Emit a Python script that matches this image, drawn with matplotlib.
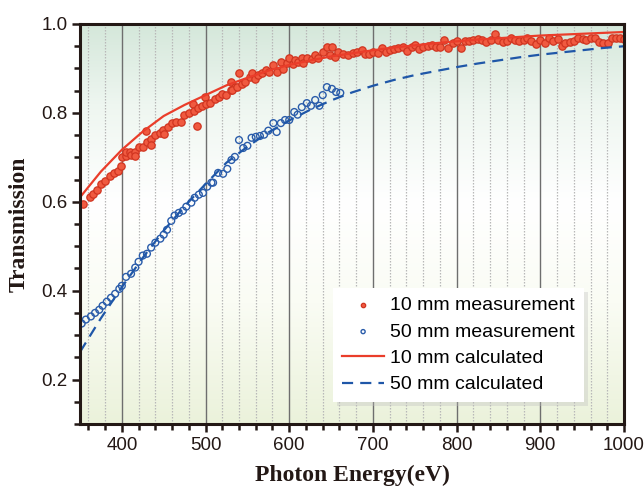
import numpy as np
import matplotlib
matplotlib.use("Agg")
import matplotlib.pyplot as plt
from matplotlib.ticker import MultipleLocator
from matplotlib.colors import LinearSegmentedColormap

# ---------------- data ----------------
m10_E = [354, 362, 366, 370, 375, 380, 386, 391, 395, 399, 400, 405, 405, 410, 411, 416, 416,
         420, 425, 429, 430, 435, 435, 440, 446, 449, 450, 455, 460, 465, 471, 474, 480, 485,
         486, 490, 491, 496, 499, 500, 505, 511, 516, 520, 524, 530, 530, 535, 532, 537, 540,
         543, 547, 553, 555, 559, 563, 567, 572, 576, 581, 585, 590, 593, 597, 600, 604, 607,
         611, 615, 616, 621, 627, 631, 634, 640, 645, 651, 649, 655, 658, 664, 670, 676, 681,
         687, 690, 695, 700, 706, 711, 716, 720, 725, 730, 736, 741, 747, 750, 755, 760, 766,
         770, 775, 780, 785, 790, 796, 800, 805, 810, 815, 820, 825, 830, 835, 841, 846, 849,
         855, 860, 865, 870, 875, 880, 884, 889, 895, 900, 906, 910, 915, 921, 926, 930, 935,
         940, 945, 951, 955, 960, 965, 970, 975, 981, 986, 990, 995, 1000]
m10_T = [0.596, 0.611, 0.618, 0.627, 0.640, 0.647, 0.658, 0.665, 0.670, 0.681, 0.700, 0.703,
         0.712, 0.712, 0.706, 0.712, 0.703, 0.724, 0.724, 0.760, 0.735, 0.742, 0.728, 0.751,
         0.755, 0.762, 0.753, 0.769, 0.777, 0.780, 0.780, 0.795, 0.800, 0.820, 0.805, 0.771,
         0.811, 0.816, 0.836, 0.820, 0.822, 0.831, 0.836, 0.843, 0.840, 0.852, 0.870, 0.858,
         0.852, 0.858, 0.890, 0.865, 0.870, 0.881, 0.890, 0.876, 0.885, 0.890, 0.897, 0.892,
         0.908, 0.892, 0.915, 0.899, 0.912, 0.924, 0.910, 0.919, 0.915, 0.924, 0.912, 0.924,
         0.921, 0.930, 0.924, 0.937, 0.948, 0.948, 0.930, 0.926, 0.937, 0.933, 0.930, 0.935,
         0.937, 0.942, 0.933, 0.933, 0.937, 0.935, 0.946, 0.937, 0.942, 0.944, 0.946, 0.948,
         0.939, 0.948, 0.953, 0.944, 0.948, 0.951, 0.953, 0.948, 0.948, 0.964, 0.946, 0.957,
         0.962, 0.946, 0.962, 0.962, 0.964, 0.966, 0.964, 0.960, 0.964, 0.978, 0.964, 0.960,
         0.962, 0.969, 0.964, 0.962, 0.964, 0.969, 0.962, 0.955, 0.964, 0.957, 0.969, 0.962,
         0.966, 0.951, 0.957, 0.960, 0.962, 0.969, 0.966, 0.964, 0.969, 0.969, 0.960, 0.957,
         0.957, 0.969, 0.969, 0.969, 0.966]

m50_E = [352, 357, 363, 368, 373, 377, 382, 387, 392, 397, 400, 405, 411, 416, 420, 425, 430,
         435, 440, 446, 450, 454, 459, 463, 468, 473, 477, 483, 487, 492, 497, 502, 507, 509,
         515, 521, 526, 531, 535, 540, 545, 550, 555, 560, 565, 570, 575, 581, 585, 590, 595,
         600, 606, 610, 615, 621, 626, 631, 636, 640, 645, 651, 656, 661]
m50_T = [0.326, 0.335, 0.342, 0.350, 0.357, 0.366, 0.375, 0.384, 0.393, 0.404, 0.411, 0.431,
         0.438, 0.452, 0.465, 0.479, 0.483, 0.497, 0.508, 0.517, 0.526, 0.537, 0.557, 0.569,
         0.575, 0.580, 0.589, 0.598, 0.609, 0.616, 0.620, 0.634, 0.643, 0.643, 0.665, 0.663,
         0.674, 0.694, 0.701, 0.739, 0.721, 0.726, 0.744, 0.746, 0.748, 0.751, 0.760, 0.777,
         0.757, 0.777, 0.784, 0.784, 0.802, 0.796, 0.813, 0.822, 0.816, 0.829, 0.816, 0.840,
         0.858, 0.854, 0.847, 0.845]

calc_E = [350, 375, 400, 425, 450, 475, 500, 525, 550, 575, 600, 625, 650, 675, 700, 725,
          750, 775, 800, 825, 850, 875, 900, 925, 950, 975, 1000]
c10_T = [0.610, 0.668, 0.717, 0.758, 0.793, 0.818, 0.840, 0.862, 0.879, 0.895, 0.908, 0.918,
         0.927, 0.934, 0.941, 0.947, 0.952, 0.957, 0.961, 0.965, 0.968, 0.971, 0.974, 0.976,
         0.978, 0.980, 0.982]
c50_T = [0.262, 0.338, 0.408, 0.474, 0.535, 0.590, 0.640, 0.688, 0.724, 0.756, 0.783, 0.807,
         0.828, 0.846, 0.861, 0.874, 0.885, 0.894, 0.903, 0.911, 0.918, 0.925, 0.931, 0.936,
         0.941, 0.946, 0.950]

labels = ["10 mm measurement", "50 mm measurement", "10 mm calculated", "50 mm calculated"]

# ---------------- figure ----------------
fig = plt.figure(figsize=(6.44, 4.90), dpi=100)
ax = fig.add_axes([80/644, 66/490, 544/644, 400/490])

# background gradient
cmap = LinearSegmentedColormap.from_list(
    "bg", [(0.0, "#ebf2db"), (0.3, "#fafcf4"), (0.55, "#ffffff"), (0.8, "#eef6f0"), (1.0, "#d4e7da")])
grad = np.linspace(0, 1, 256).reshape(-1, 1)
ax.imshow(grad, cmap=cmap, aspect="auto", origin="lower",
          extent=[0, 1, 0, 1], transform=ax.transAxes, zorder=0)

ax.set_xlim(350, 1000)
ax.set_ylim(0.1, 1.0)

# vertical grid
for e in range(360, 1000, 20):
    if e % 100 == 0:
        ax.axvline(e, color="#6e6e6e", lw=1.0, zorder=1)
    else:
        ax.axvline(e, color="#b8b8b8", lw=0.9, ls=(0, (1.2, 1.2)), zorder=1)

red = "#ea3d2a"
blue = "#1f57a8"
ax.scatter(m10_E, m10_T, s=28, facecolor="#f05a40", edgecolor="#d03420", linewidths=0.9,
           zorder=3, label=labels[0])
ax.scatter(m50_E, m50_T, s=24, facecolor="none", edgecolor="#2a5caa", linewidths=1.0,
           zorder=3, label=labels[1])
ax.plot(calc_E, c10_T, color=red, lw=1.6, zorder=4, label=labels[2])
ax.plot(calc_E, c50_T, color=blue, lw=1.6, ls=(0, (5, 3.2)), zorder=4, label=labels[3])

# spines & ticks
for sp in ax.spines.values():
    sp.set_linewidth(2.2)
    sp.set_color("#231815")
    sp.set_zorder(6)
ax.xaxis.set_major_locator(MultipleLocator(100))
ax.xaxis.set_minor_locator(MultipleLocator(20))
ax.yaxis.set_minor_locator(MultipleLocator(0.05))
ax.set_yticks([0.2, 0.4, 0.6, 0.8, 1.0])
ax.tick_params(which="both", direction="out", width=1.8, color="#231815",
               top=False, right=False)
ax.tick_params(which="major", length=6, labelsize=13.5, pad=3, labelcolor="#231815")
ax.tick_params(which="minor", length=4)
for lab in ax.get_xticklabels() + ax.get_yticklabels():
    lab.set_fontfamily("Liberation Sans")

ax.set_xlabel("Photon Energy(eV)", fontfamily="Liberation Serif", fontweight="bold",
              fontsize=17, color="#231815", labelpad=8)
ax.set_ylabel("Transmission", fontfamily="Liberation Serif", fontweight="bold",
              fontsize=17, color="#231815", labelpad=8)

leg = ax.legend(loc="upper left", bbox_to_anchor=(0.465, 0.34), borderaxespad=0,
                frameon=True, fancybox=False, markerscale=0.6, handlelength=2.2,
                handletextpad=0.3, labelspacing=0.45, borderpad=0.45,
                prop={"family": "Liberation Sans", "size": 14},
                shadow={"color": "0.75", "alpha": 0.35, "ox": 3, "oy": -3})
leg.get_frame().set_edgecolor("white")
leg.get_frame().set_linewidth(0)
leg.set_zorder(7)

fig.savefig("out.png", dpi=100)
